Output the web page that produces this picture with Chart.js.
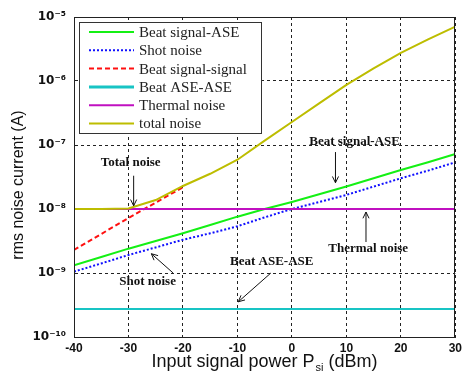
<!DOCTYPE html>
<html><head><meta charset="utf-8">
<script src="https://cdn.jsdelivr.net/npm/chart.js@4/dist/chart.umd.min.js"></script>
<style>html,body{margin:0;padding:0;background:#fff;}canvas{display:block;}</style>
</head><body>
<canvas id="c" width="466" height="384"></canvas>
<script>
// Input signal power (dBm)
const power = [-40,-35,-30,-25,-20,-15,-10,-5,0,5,10,15,20,25,30];
// rms noise currents (A)
const beatSigASE = [1.32e-9,1.78e-9,2.40e-9,3.16e-9,4.17e-9,5.62e-9,7.59e-9,1.0e-8,1.29e-8,1.70e-8,2.24e-8,3.02e-8,4.07e-8,5.37e-8,7.24e-8];
const shotNoise  = [1.05e-9,1.41e-9,1.91e-9,2.51e-9,3.31e-9,4.17e-9,5.37e-9,7.41e-9,1.0e-8,1.29e-8,1.66e-8,2.24e-8,3.02e-8,3.98e-8,5.37e-8];
// signal-signal beat: visible only until it merges into the total noise curve
const beatSigSig = [2.29e-9,4.07e-9,7.24e-9,1.26e-8,2.19e-8,null,null,null,null,null,null,null,null,null,null];
const beatASEASE = [2.75e-10,2.75e-10,2.75e-10,2.75e-10,2.75e-10,2.75e-10,2.75e-10,2.75e-10,2.75e-10,2.75e-10,2.75e-10,2.75e-10,2.75e-10,2.75e-10,2.75e-10];
const thermal    = [1e-8,1e-8,1e-8,1e-8,1e-8,1e-8,1e-8,1e-8,1e-8,1e-8,1e-8,1e-8,1e-8,1e-8,1e-8];
const totalNoise = [1.0e-8,1.0e-8,1.02e-8,1.38e-8,2.29e-8,3.55e-8,5.89e-8,1.17e-7,2.29e-7,4.47e-7,8.71e-7,1.58e-6,2.75e-6,4.47e-6,7.08e-6];
const seriesNames = ['Beat signal-ASE','Shot noise','Beat signal-signal','Beat ASE-ASE','Thermal noise','total noise'];
const xTicks = [-40,-30,-20,-10,0,10,20,30];
const yTicks = [1e-10,1e-9,1e-8,1e-7,1e-6,1e-5];
const yTickLabels = ['10\u207B\u00B9\u2070','10\u207B\u2079','10\u207B\u2078','10\u207B\u2077','10\u207B\u2076','10\u207B\u2075'];
// annotations: text with arrow (data coordinates)
const notes = [
  {text:'Total noise', x:-29.6, y:5.37e-8, ax1:-29.05, ay1:3.31e-8, ax2:-29.05, ay2:1.12e-8},
  {text:'Beat signal-ASE', x:11.5, y:1.12e-7, ax1:8.0, ay1:7.76e-8, ax2:8.0, ay2:2.57e-8},
  {text:'Thermal noise', x:14.0, y:2.37e-9, ax1:13.6, ay1:3.05e-9, ax2:13.6, ay2:8.97e-9},
  {text:'Beat ASE-ASE', x:-3.7, y:1.48e-9, ax1:-3.86, ay1:1.0e-9, ax2:-9.84, ay2:3.55e-10},
  {text:'Shot noise', x:-26.5, y:7.24e-10, ax1:-21.8, ay1:1.0e-9, ax2:-25.8, ay2:2.0e-9}
];

const pts = arr => arr.map((v,i)=>({x:power[i], y:v}));
const styles = [
  {c:'#14f014', w:2, d:[]},
  {c:'#1010ff', w:2, d:[2,2]},
  {c:'#ff1010', w:2, d:[5,3]},
  {c:'#18c4c4', w:2, d:[]},
  {c:'#c010c0', w:2, d:[]},
  {c:'#bdbd00', w:2, d:[]}
];
const dataArrs = [beatSigASE, shotNoise, beatSigSig, beatASEASE, thermal, totalNoise];
const orders = [3,2,4,5,1,0];
const datasets = dataArrs.map((a,i)=>({
  label: seriesNames[i], data: pts(a), borderColor: styles[i].c, backgroundColor: styles[i].c,
  borderWidth: styles[i].w, borderDash: styles[i].d, pointRadius: 0, tension: 0, fill: false, order: orders[i], spanGaps: false
}));

const overlay = {
  id: 'overlay',
  afterDraw(chart) {
    const ctx = chart.ctx, a = chart.chartArea, xs = chart.scales.x, ys = chart.scales.y;
    ctx.save();
    // frame
    ctx.strokeStyle = '#222'; ctx.lineWidth = 1; ctx.setLineDash([]);
    ctx.strokeRect(Math.round(a.left)+0.5, Math.round(a.top)+0.5, Math.round(a.right-a.left)-1, Math.round(a.bottom-a.top));
    // legend
    const lx = 79.5, ly = 22.5, lw = 182, lh = 111;
    ctx.fillStyle = '#fff'; ctx.fillRect(lx, ly, lw, lh);
    ctx.strokeStyle = '#333'; ctx.strokeRect(lx, ly, lw, lh);
    ctx.font = '15px "Liberation Serif", serif'; ctx.textBaseline = 'middle'; ctx.textAlign = 'left';
    chart.data.datasets.forEach((ds, i) => {
      const yy = 32 + i*18.3;
      ctx.strokeStyle = ds.borderColor; ctx.lineWidth = (i===3)?3:2; ctx.setLineDash(ds.borderDash||[]);
      ctx.beginPath(); ctx.moveTo(89, yy); ctx.lineTo(134, yy); ctx.stroke();
      ctx.setLineDash([]);
      ctx.fillStyle = '#222'; ctx.fillText(ds.label, 139, yy+1);
    });
    // annotations
    ctx.font = 'bold 13px "Liberation Serif", serif'; ctx.textAlign = 'center'; ctx.fillStyle = '#111';
    notes.forEach(n => {
      const tx = xs.getPixelForValue(n.x), ty = ys.getPixelForValue(n.y);
      ctx.fillText(n.text, tx, ty);
      const x1 = xs.getPixelForValue(n.ax1), y1 = ys.getPixelForValue(n.ay1);
      const x2 = xs.getPixelForValue(n.ax2), y2 = ys.getPixelForValue(n.ay2);
      ctx.strokeStyle = '#111'; ctx.lineWidth = 1;
      ctx.beginPath(); ctx.moveTo(x1, y1); ctx.lineTo(x2, y2); ctx.stroke();
      const ang = Math.atan2(y2-y1, x2-x1), h = 7, s = 0.45;
      ctx.beginPath();
      ctx.moveTo(x2 - h*Math.cos(ang - s), y2 - h*Math.sin(ang - s));
      ctx.lineTo(x2, y2);
      ctx.lineTo(x2 - h*Math.cos(ang + s), y2 - h*Math.sin(ang + s));
      ctx.stroke();
    });
    // axis titles
    ctx.fillStyle = '#111'; ctx.textBaseline = 'middle';
    const big = '18px "Liberation Sans", Arial, sans-serif', small = '11px "Liberation Sans", Arial, sans-serif';
    const p1 = 'Input signal power P', p2 = 'si', p3 = ' (dBm)';
    ctx.textAlign = 'left';
    ctx.font = big;
    const w1 = ctx.measureText(p1).width, w3 = ctx.measureText(p3).width;
    ctx.font = small;
    const w2 = ctx.measureText(p2).width;
    let sx = 264 - (w1+w2+w3)/2, sy = 362;
    ctx.font = big; ctx.fillText(p1, sx, sy);
    ctx.font = small; ctx.fillText(p2, sx+w1+1, sy+6);
    ctx.font = big; ctx.fillText(p3, sx+w1+w2+1, sy);
    ctx.save(); ctx.translate(19, 185); ctx.rotate(-Math.PI/2); ctx.textAlign = 'center';
    ctx.font = '16px "Liberation Sans", Arial, sans-serif';
    ctx.fillText('rms noise current (A)', 0, 0); ctx.restore();
    ctx.restore();
  }
};

new Chart(document.getElementById('c'), {
  type: 'line',
  data: { datasets },
  options: {
    responsive: false, animation: false,
    layout: { padding: { left: 0, right: 5, top: 17, bottom: 0 } },
    plugins: { legend: { display: false }, tooltip: { enabled: false } },
    scales: {
      x: {
        type: 'linear', min: -40, max: 30,
        afterBuildTicks: s => { s.ticks = xTicks.map(v=>({value:v})); },
        afterFit: s => { s.height = 47; },
        grid: { color: '#222', lineWidth: 1, drawTicks: false },
        border: { display: true, color: '#222', dash: [3,3] },
        ticks: { color: '#111', padding: 4, maxRotation: 0, font: { family: '"Liberation Sans", Arial, sans-serif', size: 12, weight: 'bold' },
          callback: v => String(v) }
      },
      y: {
        type: 'logarithmic', min: 1e-10, max: 1e-5,
        afterBuildTicks: s => { s.ticks = yTicks.map(v=>({value:v})); },
        afterFit: s => { s.width = 74; },
        grid: { color: '#222', lineWidth: 1, drawTicks: false },
        border: { display: true, color: '#222', dash: [3,3] },
        ticks: { color: '#111', padding: 8, font: { family: '"DejaVu Sans", sans-serif', size: 12, weight: 'bold' },
          callback: (v) => { const i = yTicks.findIndex(t => Math.abs(Math.log10(t)-Math.log10(v))<1e-6); return i>=0 ? yTickLabels[i] : ''; } }
      }
    }
  },
  plugins: [overlay]
});
</script>
</body></html>
